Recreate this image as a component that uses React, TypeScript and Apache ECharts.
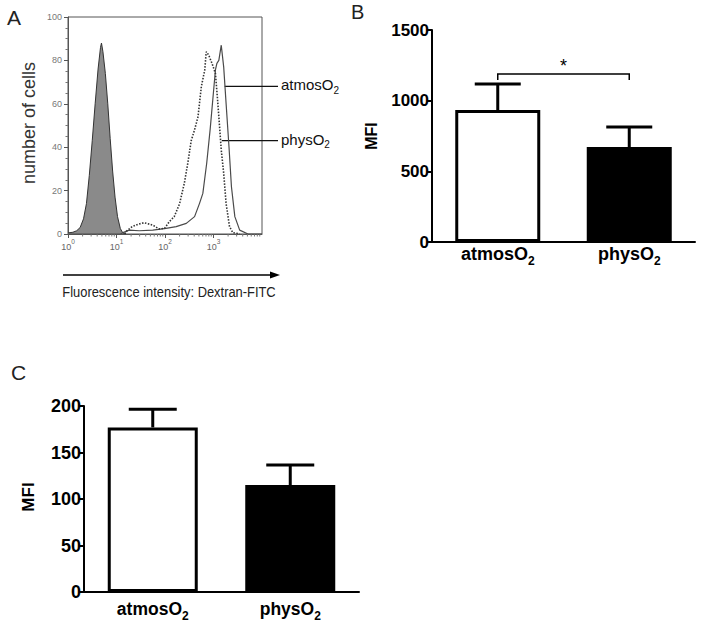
import React, { useEffect, useRef } from "react";
import * as echarts from "echarts";

const FONT = '"Liberation Sans", Arial, Helvetica, sans-serif';

// ---------- Panel A: histograms [fluorescence intensity, number of cells]
const isotypeHist = [
  [1, 0.5], [1.26, 0.8], [1.51, 1.5], [1.78, 3], [2.09, 7], [2.4, 14], [2.75, 27],
  [3.16, 43], [3.63, 60], [4.17, 76], [4.68, 86], [4.9, 88], [5.25, 84], [5.89, 74],
  [6.61, 60], [7.41, 44], [8.32, 29], [9.33, 17], [10.5, 8], [12, 2.5], [13.5, 0.5], [15.1, 0],
];
const atmosHist = [
  [1, 0], [12, 0], [13.2, 0.5], [18.2, 1.8], [29.5, 1.5], [56, 1.8], [105, 2.6], [170, 3.4],
  [275, 4.9], [407, 8], [513, 14], [603, 18.7], [724, 32.6], [851, 48], [977, 63], [1096, 75.6],
  [1175, 78.6], [1288, 80], [1445, 87], [1622, 77], [1820, 60], [2089, 40], [2344, 21.8],
  [2754, 8], [3467, 1.8], [5129, 0], [10000, 0],
];
const physHist = [
  [15, 0], [15.5, 1], [21, 3.4], [28, 4.5], [37, 5.2], [56, 4.1], [76, 2.3], [98, 2.6], [123, 5.7],
  [155, 8], [200, 14], [251, 23.5], [295, 32.6], [347, 43], [407, 48], [479, 54], [562, 68],
  [661, 75.6], [708, 84], [794, 82.5], [933, 78.6], [1096, 74], [1202, 63], [1349, 48],
  [1445, 38.7], [1622, 28], [1820, 14], [2138, 3.4], [2512, 0.6], [3467, 0],
];
const minorLogTicks = [
  2, 3, 4, 5, 6, 7, 8, 9,
  20, 30, 40, 50, 60, 70, 80, 90,
  200, 300, 400, 500, 600, 700, 800, 900,
  2000, 3000, 4000, 5000, 6000, 7000, 8000, 9000,
];
// annotation anchor points on the curves [intensity, cells, label]
const annotations = [
  [1700, 68, "atmosO2"],
  [1480, 43, "physO2"],
];

// ---------- Panels B and C
const categories = ["atmosO2", "physO2"];
const mfiB = [934, 672];
const semB = [184, 142];
const bracketB = [1189, 1146, 1245]; // bracket level, tick end, star level
const mfiC = [177, 115];
const semC = [19.5, 21.5];

const subLabel = (v: string) => `{a|${v.slice(0, -1)}}{s|${v.slice(-1)}}`;

function errorSeries(xi: number, yi: number, mean: number[], sem: number[], capHalf: number) {
  return {
    type: "custom",
    xAxisIndex: xi,
    yAxisIndex: yi,
    clip: false,
    z: 5,
    encode: { x: 0, y: 1 },
    data: mean.map((m, i) => [i, m, sem[i]]),
    renderItem: (params: any, api: any) => {
      const i = api.value(0);
      const m = api.value(1);
      const e = api.value(2);
      const b = api.coord([i, m]);
      const t = api.coord([i, m + e]);
      return {
        type: "group",
        children: [
          { type: "line", shape: { x1: b[0], y1: b[1], x2: t[0], y2: t[1] }, style: { stroke: "#000", lineWidth: 3 } },
          { type: "line", shape: { x1: t[0] - capHalf, y1: t[1], x2: t[0] + capHalf, y2: t[1] }, style: { stroke: "#000", lineWidth: 3 } },
        ],
      };
    },
  };
}

function barSeries(xi: number, yi: number, mean: number[], width: number) {
  return {
    type: "bar",
    xAxisIndex: xi,
    yAxisIndex: yi,
    barWidth: width,
    data: mean.map((m, i) => ({
      value: m,
      itemStyle: { color: i === 0 ? "#fff" : "#000", borderColor: "#000", borderWidth: 3 },
    })),
  };
}

const catAxis = (gi: number, fs: number, sub: number, margin: number) => ({
  type: "category",
  gridIndex: gi,
  data: categories,
  axisLine: { show: true, lineStyle: { color: "#000", width: 2 } },
  axisTick: { show: false },
  axisLabel: {
    margin,
    formatter: subLabel,
    rich: {
      a: { fontFamily: FONT, fontWeight: "bold", fontSize: fs, color: "#000", lineHeight: fs + 4, verticalAlign: "top" },
      s: { fontFamily: FONT, fontWeight: "bold", fontSize: sub, color: "#000", lineHeight: sub, verticalAlign: "bottom" },
    },
  },
});

const valAxis = (gi: number, max: number, interval: number, fs: number) => ({
  type: "value",
  gridIndex: gi,
  min: 0,
  max,
  interval,
  axisLine: { show: true, lineStyle: { color: "#000", width: 2 } },
  axisTick: { show: true, length: 5, lineStyle: { color: "#000", width: 2 } },
  splitLine: { show: false },
  axisLabel: {
    fontFamily: FONT,
    fontWeight: "bold",
    fontSize: fs,
    color: "#000",
    margin: 3,
    formatter: (v: number) => String(v),
  },
});

export default function App() {
  const ref = useRef<HTMLDivElement>(null);
  useEffect(() => {
    if (!ref.current) return;
    const chart = echarts.init(ref.current, undefined, { renderer: "svg" });
    const option: any = {
      animation: false,
      backgroundColor: "#fff",
      textStyle: { fontFamily: FONT },
      grid: [
        { left: 68, top: 17, width: 194, height: 217, show: true, borderColor: "#555", borderWidth: 1, backgroundColor: "transparent" },
        { left: 432, top: 30, width: 263, height: 212 },
        { left: 84, top: 406, width: 275, height: 186 },
      ],
      xAxis: [
        {
          type: "log",
          gridIndex: 0,
          logBase: 10,
          min: 1,
          max: 10000,
          axisLine: { show: true, lineStyle: { color: "#555", width: 1 } },
          axisTick: { show: true, length: 4, lineStyle: { color: "#555" } },
          splitLine: { show: false },
          axisLabel: {
            margin: 4,
            showMaxLabel: false,
            formatter: (v: number) => {
              const n = Math.round(Math.log10(v));
              return n >= 4 ? "" : `{b|10}{e|${n}}`;
            },
            rich: {
              b: { fontFamily: FONT, fontSize: 9, color: "#666", lineHeight: 13, verticalAlign: "bottom" },
              e: { fontFamily: FONT, fontSize: 6.5, color: "#666", lineHeight: 7, verticalAlign: "top" },
            },
          },
        },
        catAxis(1, 18, 12, 3),
        catAxis(2, 17.5, 12, 8),
      ],
      yAxis: [
        {
          type: "value",
          gridIndex: 0,
          min: 0,
          max: 100,
          interval: 20,
          axisLine: { show: true, lineStyle: { color: "#555", width: 1 } },
          axisTick: { show: true, length: 4, lineStyle: { color: "#555" } },
          minorTick: { show: true, splitNumber: 4, length: 2.5, lineStyle: { color: "#777" } },
          splitLine: { show: false },
          axisLabel: { fontFamily: FONT, fontSize: 9, color: "#777", margin: 6 },
        },
        valAxis(1, 1500, 500, 17),
        valAxis(2, 200, 50, 18),
      ],
      series: [
        {
          type: "line",
          xAxisIndex: 0,
          yAxisIndex: 0,
          data: isotypeHist,
          symbol: "none",
          lineStyle: { color: "#333", width: 1 },
          areaStyle: { color: "#8a8a8a", opacity: 1 },
          z: 2,
        },
        {
          type: "line",
          xAxisIndex: 0,
          yAxisIndex: 0,
          data: atmosHist,
          symbol: "none",
          lineStyle: { color: "#4a4a4a", width: 1.2 },
          z: 3,
        },
        {
          type: "line",
          xAxisIndex: 0,
          yAxisIndex: 0,
          data: physHist,
          symbol: "none",
          lineStyle: { color: "#333", width: 1.6, type: [1.5, 1.5] },
          z: 3,
        },
        {
          type: "custom",
          xAxisIndex: 0,
          yAxisIndex: 0,
          clip: false,
          silent: true,
          encode: { x: 0, y: 1 },
          data: minorLogTicks.map((v) => [v, 0]),
          renderItem: (params: any, api: any) => {
            const p = api.coord([api.value(0), 0]);
            return {
              type: "line",
              shape: { x1: p[0], y1: p[1], x2: p[0], y2: p[1] + 2.5 },
              style: { stroke: "#777", lineWidth: 1 },
            };
          },
        },
        {
          type: "custom",
          xAxisIndex: 0,
          yAxisIndex: 0,
          clip: false,
          encode: { x: 0, y: 1 },
          data: annotations,
          renderItem: (params: any, api: any) => {
            const p = api.coord([api.value(0), api.value(1)]);
            const edge = api.coord([10000, 0])[0];
            const label = annotations[params.dataIndex][2] as string;
            return {
              type: "group",
              children: [
                { type: "line", shape: { x1: p[0], y1: p[1], x2: edge + 16, y2: p[1] }, style: { stroke: "#111", lineWidth: 1.2 } },
                {
                  type: "text",
                  x: edge + 19,
                  y: p[1],
                  style: {
                    text: subLabel(label),
                    verticalAlign: "middle",
                    align: "left",
                    rich: {
                      a: { fontFamily: FONT, fontSize: 15, fill: "#111", lineHeight: 18, verticalAlign: "top" },
                      s: { fontFamily: FONT, fontSize: 10, fill: "#111", lineHeight: 9, verticalAlign: "bottom" },
                    },
                  },
                },
              ],
            };
          },
        },
        barSeries(1, 1, mfiB, 85),
        errorSeries(1, 1, mfiB, semB, 23),
        {
          type: "custom",
          xAxisIndex: 1,
          yAxisIndex: 1,
          clip: false,
          encode: { x: 0, y: 1 },
          data: [[0, bracketB[0], 1, bracketB[1], bracketB[2]]],
          renderItem: (params: any, api: any) => {
            const l = api.coord([api.value(0), api.value(1)]);
            const r = api.coord([api.value(2), api.value(1)]);
            const d = api.coord([0, api.value(3)]);
            const s = api.coord([0, api.value(4)]);
            return {
              type: "group",
              children: [
                {
                  type: "polyline",
                  shape: { points: [[l[0], d[1]], [l[0], l[1]], [r[0], r[1]], [r[0], d[1]]] },
                  style: { stroke: "#000", lineWidth: 1.5, fill: "none" },
                },
                {
                  type: "text",
                  x: (l[0] + r[0]) / 2,
                  y: s[1],
                  style: { text: "*", fontFamily: FONT, fontSize: 18, fill: "#000", align: "center", verticalAlign: "middle" },
                },
              ],
            };
          },
        },
        barSeries(2, 2, mfiC, 90),
        errorSeries(2, 2, mfiC, semC, 24),
      ],
      graphic: [
        { type: "text", x: 7, y: 17, style: { text: "A", fontFamily: FONT, fontSize: 21, fill: "#222", verticalAlign: "middle" } },
        { type: "text", x: 351, y: 12, style: { text: "B", fontFamily: FONT, fontSize: 20, fill: "#222", verticalAlign: "middle" } },
        { type: "text", x: 11, y: 372, style: { text: "C", fontFamily: FONT, fontSize: 21, fill: "#222", verticalAlign: "middle" } },
        {
          type: "text",
          x: 29,
          y: 123,
          rotation: Math.PI / 2,
          style: { text: "number of cells", fontFamily: FONT, fontSize: 18, fill: "#333", align: "center", verticalAlign: "middle" },
        },
        {
          type: "text",
          x: 169,
          y: 292,
          scaleX: 0.86,
          style: { text: "Fluorescence intensity: Dextran-FITC", fontFamily: FONT, fontSize: 15, fill: "#222", align: "center", verticalAlign: "middle" },
        },
        { type: "line", shape: { x1: 63, y1: 275, x2: 272, y2: 275 }, style: { stroke: "#000", lineWidth: 1.5 } },
        { type: "polygon", shape: { points: [[270, 271.5], [280, 275], [270, 278.5]] }, style: { fill: "#000" } },
        {
          type: "text",
          x: 371,
          y: 136,
          rotation: Math.PI / 2,
          style: { text: "MFI", fontFamily: FONT, fontWeight: "bold", fontSize: 16, fill: "#000", align: "center", verticalAlign: "middle" },
        },
        {
          type: "text",
          x: 28,
          y: 497,
          rotation: Math.PI / 2,
          style: { text: "MFI", fontFamily: FONT, fontWeight: "bold", fontSize: 17, fill: "#000", align: "center", verticalAlign: "middle" },
        },
      ],
    };
    chart.setOption(option);
    return () => chart.dispose();
  }, []);
  return (
    <div
      ref={ref}
      style={{ position: "absolute", left: 0, top: 0, width: 704, height: 628, background: "#fff" }}
    />
  );
}
